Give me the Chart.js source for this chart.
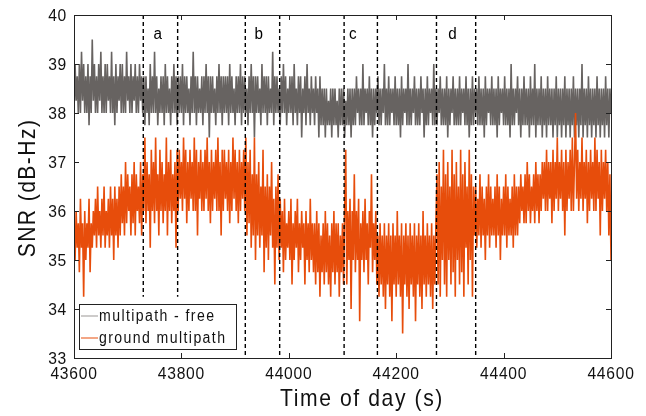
<!DOCTYPE html>
<html>
<head>
<meta charset="utf-8">
<script src="https://cdn.jsdelivr.net/npm/chart.js@4.4.0/dist/chart.umd.min.js"></script>
<style>
  html, body { margin: 0; padding: 0; background: #fff; }
</style>
</head>
<body>
<canvas id="snrChart" width="646" height="416"></canvas>
<script>
// SNR samples, one every 2 s starting at 43600 s
const startTime = 43600;
const sampleStep = 2;

const multipathFree = [
  38, 39, 38.25, 38.75, 38, 39, 38, 39.25, 38.25, 39, 38, 38.75, 38, 39, 37.75, 38.75, 38, 39.5, 38.25, 39,
  38, 38.75, 38, 39, 38.25, 39.25, 38, 38.75, 38, 39, 38, 39, 38.25, 38.75, 38, 39.25, 38, 38.75, 37.75, 39,
  38, 38.75, 38.25, 39, 38, 39, 38, 38.75, 38, 39.25, 38.25, 38.75, 38, 39, 38, 38.75, 38.25, 39, 38, 38.75,
  38, 39, 38.25, 38.75, 38, 38.75, 37.75, 38.75, 38, 38.5, 37.75, 39, 38, 38.75, 38, 39.25, 38, 38.75, 37.75, 38.5,
  38, 38.75, 38, 38.75, 37.75, 39, 38, 38.75, 38, 38.5, 37.75, 38.75, 38, 39, 38, 38.75, 37.75, 38.75, 38, 38.75,
  38, 39, 37.75, 38.75, 38, 38.75, 38, 38.5, 37.75, 38.75, 38, 39.25, 38, 38.75, 37.75, 38.75, 38, 38.5, 38, 38.75,
  37.75, 38.75, 38, 39, 38, 38.75, 37.5, 38.75, 38, 38.75, 38, 38.5, 37.75, 38.75, 38, 39, 38, 38.75, 37.75, 38.75,
  38, 38.75, 38, 38.75, 37.75, 39, 38, 38.75, 38, 38.5, 37.75, 38.75, 38, 38.75, 38, 39, 37.75, 38.75, 38, 38.75,
  38, 38.5, 37.75, 38.75, 38, 39, 38, 38.75, 37.5, 38.75, 38, 38.75, 38, 38.5, 37.75, 39, 38, 38.75, 38, 38.75,
  37.75, 38.75, 38, 38.5, 38, 39.25, 37.75, 38.75, 38, 38.75, 38, 38.5, 37.75, 38.75, 38, 39, 38, 38.75, 37.75, 38.5,
  38, 38.75, 38, 38.75, 37.75, 39, 38, 38.5, 37.75, 38.75, 38, 38.75, 37.5, 38.5, 38, 38.75, 37.75, 39, 38, 38.5,
  37.75, 38.75, 38, 38.5, 37.75, 38.75, 38, 38.5, 37.5, 38.75, 37.75, 38.5, 37.75, 38.5, 37.5, 38.5, 37.75, 38.25, 37.75, 38.5,
  37.5, 38.5, 37.75, 38.5, 37.75, 38.25, 37.5, 38.5, 37.75, 38.5, 37.75, 38.5, 37.5, 38.25, 37.75, 38.5, 37.75, 38.5, 37.5, 38.5,
  37.75, 38.5, 37.75, 38.75, 38, 38.5, 37.75, 38.5, 37.75, 39, 37.75, 38.5, 38, 38.5, 37.75, 38.75, 37.75, 38.5, 37.5, 38.5,
  37.75, 38.5, 38, 38.75, 37.75, 38.5, 37.75, 38.5, 38, 39, 37.75, 38.5, 37.75, 38.75, 37.75, 38.5, 38, 38.5, 37.75, 38.75,
  37.75, 38.5, 37.75, 38.5, 37.5, 38.75, 37.75, 38.5, 38, 38.5, 37.75, 39, 37.75, 38.5, 37.75, 38.5, 38, 38.75, 37.75, 38.5,
  37.75, 38.5, 37.75, 38.75, 38, 38.5, 37.5, 38.5, 37.75, 38.75, 37.75, 38.5, 38, 38.5, 37.75, 39, 37.75, 38.5, 37.75, 38.5,
  38, 38.75, 37.75, 38.5, 37.75, 38.5, 37.75, 38.75, 37.5, 38.5, 37.75, 38.5, 38, 38.75, 37.75, 38.5, 37.75, 38.5, 37.75, 38.75,
  37.75, 38.5, 38, 38.5, 37.75, 38.75, 37.75, 38.5, 37.5, 38.5, 37.75, 38.75, 37.75, 38.5, 38, 38.5, 37.75, 38.75, 37.75, 38.5,
  37.75, 38.5, 37.5, 38.75, 37.75, 38.5, 38, 38.5, 37.75, 38.75, 37.75, 38.5, 37.75, 38.5, 37.5, 38.75, 37.75, 38.5, 38, 38.5,
  37.75, 38.75, 37.75, 38.5, 37.75, 38.5, 37.5, 39, 37.75, 38.5, 37.75, 38.5, 38, 38.75, 37.75, 38.5, 37.5, 38.5, 37.75, 38.75,
  37.75, 38.5, 37.75, 38.5, 37.5, 38.75, 37.75, 38.5, 37.75, 39, 37.5, 38.5, 37.75, 38.5, 37.75, 38.75, 37.5, 38.5, 37.75, 38.5,
  37.5, 38.75, 37.75, 38.5, 37.75, 38.5, 37.5, 38.5, 37.75, 38.75, 37.5, 38.5, 37.75, 38.5, 37.5, 38.5, 37.75, 38.75, 37.5, 38.5,
  37.75, 38.5, 37.5, 38.5, 37.75, 38.75, 37.5, 38.5, 37.75, 38.5, 37.5, 38.5, 37.75, 39, 37.5, 38.5, 37.75, 38.5, 37.5, 38.75,
  37.75, 38.5, 37.5, 38.5, 37.75, 38.5, 37.5, 38.75, 37.75, 38.5, 37.5, 38.5, 37.75, 38.5, 37.5, 38.75, 37.75, 38.5, 37.5, 38.5,
  38
];

const groundMultipath = [
  35.75, 35, 36, 35.25, 35.75, 34.75, 36.25, 35.25, 35.75, 34.25, 36, 35, 35.75, 35.25, 36.25, 34.75, 35.75, 35.25, 36, 35.5,
  36.25, 35.25, 36.5, 35.5, 36, 35.25, 36.25, 35.5, 36.5, 35.25, 36, 35.5, 36.25, 35.25, 36.5, 35.5, 36.25, 35, 36.5, 35.5,
  36.25, 35.25, 36.5, 35.5, 36.75, 35.75, 36.5, 35.5, 37, 35.75, 36.75, 36, 36.5, 35.5, 36.75, 35.75, 37, 35.5, 36.75, 36,
  36.5, 35.75, 37, 35.5, 36.75, 36, 37.5, 35.75, 37, 36, 36.75, 35.25, 37.25, 36, 37, 35.75, 37.5, 36, 36.75, 35.5,
  37.25, 36, 37, 35.75, 36.75, 36, 37.5, 35.5, 37, 36, 37.25, 35.75, 36.75, 36, 37, 35.25, 37.25, 36, 37.25, 36.25,
  37, 36, 37.5, 36.25, 37.25, 35.75, 37, 36, 37.25, 36.25, 37, 36, 37.5, 36, 37.25, 35.5, 37, 36.25, 37.25, 36,
  37, 36, 37.25, 36.25, 37.5, 36, 37, 35.75, 37.25, 36, 37, 36.25, 37.25, 36, 37.5, 36, 37, 35.5, 37.25, 36,
  37.25, 36.25, 37, 36, 37.25, 35.75, 37, 36, 37.5, 36.25, 37.25, 36, 37, 35.75, 37.25, 36, 37, 36.25, 37.25, 36,
  37.5, 35.5, 37, 35.75, 37.25, 35.25, 36.75, 35.5, 37.5, 35, 36.75, 35.5, 37, 35.25, 36.5, 35.5, 37.25, 34.75, 36.5, 35.25,
  36.75, 35, 36.5, 35.5, 37, 35.25, 36.25, 34.5, 36.5, 35.25, 36.75, 35, 36.25, 35.25, 36, 34.75, 36.25, 35, 35.75, 35.25,
  36, 35, 36.25, 34.5, 35.75, 35, 36, 35.25, 36.25, 34.75, 35.75, 35, 36, 35.25, 35.75, 34.5, 36, 35, 35.75, 34.75,
  36.25, 35, 35.75, 34.75, 35.75, 34.5, 36, 34.75, 35.75, 34.25, 35.5, 34.75, 35.75, 34.5, 36, 34.75, 35.75, 34.5, 35.5, 34.25,
  35.75, 34.75, 36, 34.5, 35.75, 34.75, 35.75, 34.25, 35.5, 34.75, 35.75, 34.5, 36, 37.25, 34.5, 36, 35, 36.25, 34, 36,
  35, 36.75, 34.75, 36, 35, 36.25, 33.75, 35.75, 35, 36, 34.75, 36.25, 35, 35.75, 34.5, 36, 35.25, 36.75, 34.75, 35.75,
  35, 36, 34.5, 35.5, 34.25, 35.75, 34.5, 35.5, 34.25, 35.75, 34, 35.5, 34.5, 35.75, 34.25, 35.5, 33.75, 35.75, 34.5, 35.5,
  34.25, 36, 34.5, 35.5, 34.25, 35.75, 33.5, 35.5, 34.5, 35.75, 34.25, 35.5, 34, 35.75, 34.5, 35.5, 34.25, 35.75, 33.75, 35.5,
  34.5, 35.75, 34.25, 35.5, 34, 36, 34.5, 35.5, 34.25, 35.75, 34.5, 35.5, 34.25, 35.75, 34, 35.5, 34.5, 35.75, 36.75, 34.5,
  37, 34.25, 36.5, 35, 37.25, 34.5, 36.75, 34.25, 37, 35, 36.5, 34.5, 37.25, 34.75, 36.75, 34.25, 37, 35, 36.5, 34.5,
  37.25, 34.75, 36.75, 34.25, 37, 35.25, 36.5, 34.5, 37.25, 35, 36.75, 34.25, 36.5, 35.5, 36.5, 35.25, 36.25, 35.5, 36.75, 35.25,
  36.5, 35.5, 36.25, 35, 36.5, 35.5, 36.75, 35.25, 36.5, 35.5, 36.25, 35.5, 36.5, 35.25, 36.75, 35.5, 36.5, 35, 36.25, 35.5,
  36.5, 35.5, 36.75, 35.25, 36.5, 35.5, 36.25, 35.5, 36.5, 35.25, 36.75, 35.5, 36.5, 35.5, 36.5, 35.75, 36.75, 36, 36.5, 35.75,
  36.75, 35.75, 37, 36, 36.75, 35.75, 36.5, 36, 36.75, 35.75, 37, 36, 36.75, 35.75, 36.75, 36, 37, 36.25, 37, 36,
  37.25, 36, 37, 36.25, 37, 35.75, 37.25, 36, 37, 36.25, 37.5, 36, 37, 36.25, 37.25, 36, 37, 35.5, 37.25, 36,
  37, 36.25, 37.25, 36, 37.5, 36, 37, 38, 36.25, 37.25, 36, 37, 36.25, 37.5, 36, 37, 36.25, 37.25, 35.75, 37,
  36, 37.25, 36.25, 37, 36, 37.5, 36, 37.25, 36.25, 37, 35.5, 37.25, 36, 37, 36.25, 37.25, 36, 37, 35.5, 36.75,
  35
];

// segment boundaries (dashed) and their region letters
const boundaryTimes = [43729, 43793, 43919, 43983, 44103, 44165, 44275, 44348];
const boundaryLow = [34.25, 34.25, 33, 33, 33, 33, 33, 33];
const regionNames = ['a', 'b', 'c', 'd'];
const regionTimes = [43756, 43944, 44119, 44305];
const regionLevel = 39.6;

const xTicks = [43600, 43800, 44000, 44200, 44400, 44600];
const yTicks = [33, 34, 35, 36, 37, 38, 39, 40];

const seriesNames = ['multipath - free', 'ground multipath'];
const GRAY = '#676361';
const ORANGE = '#e74d0b';
const FONT = '"Liberation Sans", Arial, sans-serif';

const toPoints = arr => arr.map((v, i) => ({ x: startTime + sampleStep * i, y: v }));

const datasets = [];
boundaryTimes.forEach((t, k) => {
  datasets.push({
    label: 'boundary',
    data: [{ x: t, y: 40 }, { x: t, y: boundaryLow[k] }],
    borderColor: '#000',
    borderWidth: 1.4,
    borderDash: [4, 3],
    pointRadius: 0,
    order: 0
  });
});
datasets.push({
  label: seriesNames[1],
  data: toPoints(groundMultipath),
  borderColor: ORANGE,
  borderWidth: 1.6,
  pointRadius: 0,
  tension: 0,
  order: 1
});
datasets.push({
  label: seriesNames[0],
  data: toPoints(multipathFree),
  borderColor: GRAY,
  borderWidth: 1.6,
  pointRadius: 0,
  tension: 0,
  order: 2
});

// narrow, slightly spaced lettering like the original plot
function label(ctx, text, x, y, size, align, sx, spacing) {
  ctx.save();
  ctx.translate(x, y);
  ctx.scale(sx, 1);
  ctx.font = size + 'px ' + FONT;
  ctx.letterSpacing = spacing + 'px';
  ctx.textAlign = align;
  ctx.textBaseline = 'middle';
  ctx.fillText(text, 0, 0);
  ctx.restore();
}

const framePlugin = {
  id: 'frame',
  afterDatasetsDraw(chart) {
    const { ctx, scales: { x, y } } = chart;
    ctx.save();
    ctx.fillStyle = '#000';
    regionNames.forEach((n, k) => {
      label(ctx, n, x.getPixelForValue(regionTimes[k]), y.getPixelForValue(regionLevel), 16, 'center', 0.95, 0);
    });

    // legend box
    const lx = 79, ly = 304, lw = 157, lh = 45;
    ctx.fillStyle = '#fff';
    ctx.fillRect(lx, ly, lw, lh);
    ctx.strokeStyle = '#222';
    ctx.lineWidth = 1;
    ctx.strokeRect(lx + 0.5, ly + 0.5, lw, lh);
    const rows = [
      { text: seriesNames[0], color: 'rgba(103,99,97,0.55)', w: 1.2, yy: ly + 12 },
      { text: seriesNames[1], color: 'rgba(231,77,11,0.5)', w: 2, yy: ly + 34 }
    ];
    rows.forEach(r => {
      ctx.strokeStyle = r.color;
      ctx.lineWidth = r.w;
      ctx.beginPath();
      ctx.moveTo(lx + 2, r.yy);
      ctx.lineTo(lx + 19, r.yy);
      ctx.stroke();
      ctx.fillStyle = '#111';
      label(ctx, r.text, lx + 20, r.yy + 1, 16, 'left', 0.88, 1.6);
    });
    ctx.restore();
  },
  afterDraw(chart) {
    const { ctx, chartArea: a, scales: { x, y } } = chart;
    ctx.save();
    ctx.strokeStyle = '#222';
    ctx.lineWidth = 1;
    ctx.strokeRect(a.left + 0.5, a.top + 0.5, a.right - a.left, a.bottom - a.top);
    ctx.beginPath();
    xTicks.forEach(v => {
      const px = Math.round(x.getPixelForValue(v)) + 0.5;
      ctx.moveTo(px, a.bottom); ctx.lineTo(px, a.bottom - 5);
      ctx.moveTo(px, a.top); ctx.lineTo(px, a.top + 5);
    });
    yTicks.forEach(v => {
      const py = Math.round(y.getPixelForValue(v)) + 0.5;
      ctx.moveTo(a.left, py); ctx.lineTo(a.left + 5, py);
      ctx.moveTo(a.right, py); ctx.lineTo(a.right - 5, py);
    });
    ctx.stroke();

    // tick labels
    ctx.fillStyle = '#111';
    xTicks.forEach(v => {
      label(ctx, String(v), x.getPixelForValue(v), a.bottom + 16, 17, 'center', 0.92, 0.8);
    });
    yTicks.forEach(v => {
      label(ctx, String(v), a.left - 7, y.getPixelForValue(v) + 1.5, 17, 'right', 0.92, 0.8);
    });

    // axis titles
    label(ctx, 'Time of day (s)', 362, 399, 24, 'center', 0.88, 1.8);
    ctx.translate(28, 188);
    ctx.rotate(-Math.PI / 2);
    label(ctx, 'SNR (dB-Hz)', 0, 0, 24, 'center', 0.88, 1.6);
    ctx.restore();
  }
};

new Chart(document.getElementById('snrChart').getContext('2d'), {
  type: 'line',
  data: { datasets },
  options: {
    responsive: false,
    animation: false,
    layout: { padding: { top: 15, right: 35, left: 0, bottom: 0 } },
    plugins: {
      legend: { display: false },
      tooltip: { enabled: false }
    },
    scales: {
      x: {
        type: 'linear',
        min: 43600,
        max: 44600,
        afterBuildTicks: s => { s.ticks = xTicks.map(v => ({ value: v })); },
        afterFit: s => { s.height = 58; },
        grid: { display: false },
        border: { display: false },
        ticks: { display: false }
      },
      y: {
        min: 33,
        max: 40,
        afterBuildTicks: s => { s.ticks = yTicks.map(v => ({ value: v })); },
        afterFit: s => { s.width = 74; },
        grid: { display: false },
        border: { display: false },
        ticks: { display: false }
      }
    }
  },
  plugins: [framePlugin]
});
</script>
</body>
</html>
